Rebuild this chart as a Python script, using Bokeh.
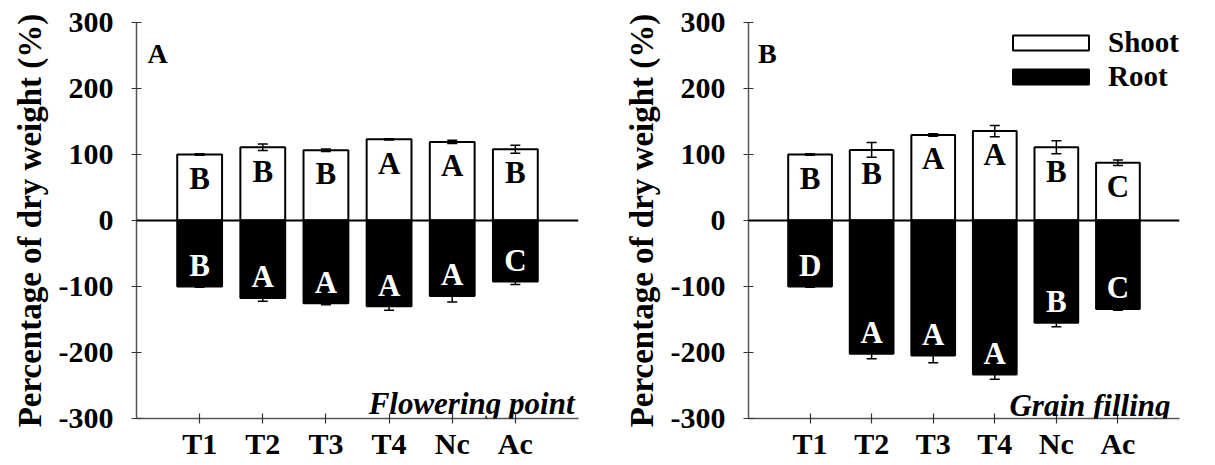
from bokeh.plotting import figure
from bokeh.layouts import row
from bokeh.models import (FactorRange, Range1d, Span, Whisker, ColumnDataSource,
                          Label, Legend, LegendItem, FixedTicker, TeeHead)
from bokeh.core.properties import value
from bokeh.embed import file_html
from bokeh.resources import INLINE

categories = ["T1", "T2", "T3", "T4", "Nc", "Ac"]
y_ticks = [-300, -200, -100, 0, 100, 200, 300]
y_tick_labels = ["-300", "-200", "-100", "0", "100", "200", "300"]

# Panel A: flowering point
a_shoot = [100, 111, 106.5, 123, 119, 108]
a_shoot_err = [1, 5, 2, 1, 2.5, 6]
a_root = [-100, -117.5, -125.5, -130, -114.5, -92.5]
a_root_err = [1, 5, 2, 6, 9, 4.5]
a_shoot_letters = ["B", "B", "B", "A", "A", "B"]
a_root_letters = ["B", "A", "A", "A", "A", "C"]

# Panel B: grain filling
b_shoot = [100, 107, 129.5, 135.5, 111, 87.5]
b_shoot_err = [1, 11, 2, 8.5, 10, 4]
b_root = [-100, -202, -204.5, -233.5, -155, -134]
b_root_err = [1, 7.5, 11, 7, 6, 2]
b_shoot_letters = ["B", "B", "A", "A", "B", "C"]
b_root_letters = ["D", "A", "A", "A", "B", "C"]

FONT = "Times"
SHOOT_LETTER_OFFSET = -36
ROOT_LETTER_OFFSET = 32
FRAME_H = 399


def panel(shoot, shoot_err, root, root_err, s_letters, r_letters, width,
          left, right, panel_tag, tag_x, stage, stage_x, stage_y, legend=False):
    p = figure(width=width, height=462,
               x_range=FactorRange(*categories, range_padding=0.5,
                                   range_padding_units="absolute"),
               y_range=Range1d(-300, 300),
               output_backend="svg", toolbar_location=None,
               min_border_left=left, min_border_right=right,
               min_border_top=22, min_border_bottom=41)
    p.outline_line_color = None
    p.grid.visible = False
    p.background_fill_color = "white"

    src = ColumnDataSource(dict(
        x=categories, shoot=shoot, root=root,
        s_up=[v + e for v, e in zip(shoot, shoot_err)],
        s_lo=[v - e for v, e in zip(shoot, shoot_err)],
        r_up=[v + e for v, e in zip(root, root_err)],
        r_lo=[v - e for v, e in zip(root, root_err)],
        s_lab=s_letters, r_lab=r_letters,
        s_y=[v + SHOOT_LETTER_OFFSET for v in shoot],
        r_y=[v + ROOT_LETTER_OFFSET for v in root],
    ))

    rs = p.vbar(x="x", top="shoot", bottom=0, width=0.71, source=src,
                fill_color="white", line_color="black", line_width=2)
    rr = p.vbar(x="x", top=0, bottom="root", width=0.71, source=src,
                fill_color="black", line_color="black", line_width=2)

    for up, lo in (("s_up", "s_lo"), ("r_up", "r_lo")):
        w = Whisker(base="x", upper=up, lower=lo, source=src,
                    line_color="black", line_width=1.5, level="annotation",
                    upper_head=TeeHead(size=10, line_color="black", line_width=1.5),
                    lower_head=TeeHead(size=10, line_color="black", line_width=1.5))
        p.add_layout(w)

    p.add_layout(Span(location=0, dimension="width", line_color="black",
                      line_width=2))

    p.text(x="x", y="s_y", text="s_lab", source=src, text_color="black",
           text_font=value(FONT), text_font_style="bold",
           text_font_size="31px", text_align="center", text_baseline="middle")
    p.text(x="x", y="r_y", text="r_lab", source=src, text_color="white",
           text_font=value(FONT), text_font_style="bold",
           text_font_size="31px", text_align="center", text_baseline="middle")

    # axes
    for ax in (p.xaxis[0], p.yaxis[0]):
        ax.axis_line_color = "#555555"
        ax.axis_line_width = 1.5
        ax.major_tick_line_color = "#333333"
        ax.major_tick_line_width = 1.2
        ax.major_tick_in = 5
        ax.major_tick_out = 5
        ax.minor_tick_line_color = None
        ax.major_label_text_font = FONT
        ax.major_label_text_font_style = "bold"
        ax.major_label_text_color = "black"
    p.yaxis.ticker = FixedTicker(ticks=y_ticks)
    p.yaxis.major_label_overrides = dict(zip(y_ticks, y_tick_labels))
    p.yaxis.major_label_text_font_size = "30px"
    p.yaxis.major_label_standoff = 18
    p.yaxis.axis_label = "Percentage of dry weight (%)"
    p.yaxis.axis_label_text_font = FONT
    p.yaxis.axis_label_text_font_style = "bold"
    p.yaxis.axis_label_text_font_size = "33px"
    p.yaxis.axis_label_text_color = "black"
    p.yaxis.axis_label_standoff = 8
    p.xaxis.major_label_text_font_size = "30px"
    p.xaxis.major_label_standoff = 3

    p.add_layout(Label(x=tag_x, y=FRAME_H - 34, x_units="screen", y_units="screen",
                       text=panel_tag, text_font=FONT, text_font_style="bold",
                       text_font_size="28px", text_color="black",
                       text_baseline="alphabetic"))
    p.add_layout(Label(x=stage_x, y=stage_y, x_units="screen", y_units="screen",
                       text=stage, text_font=FONT, text_font_style="bold italic",
                       text_font_size="31px", text_color="black",
                       text_align="right", text_baseline="alphabetic"))

    if legend:
        common = dict(glyph_width=95, glyph_height=19,
                      label_text_font=FONT, label_text_font_style="bold",
                      label_text_font_size="29px", label_text_color="black",
                      label_standoff=10,
                      spacing=0, padding=0, margin=0,
                      border_line_color=None, background_fill_alpha=0)
        lg1 = Legend(items=[LegendItem(label="Shoot", renderers=[rs])],
                     location=(255, 359), **common)
        lg2 = Legend(items=[LegendItem(label="Root", renderers=[rr])],
                     location=(255, 325), **common)
        p.add_layout(lg1, "center")
        p.add_layout(lg2, "center")
    return p


pa = panel(a_shoot, a_shoot_err, a_root, a_root_err, a_shoot_letters,
           a_root_letters, 600, 136, 22, "A", 11, "Flowering point", 438, 15)
pb = panel(b_shoot, b_shoot_err, b_root, b_root_err, b_shoot_letters,
           b_root_letters, 605, 148, 26, "B", 9.5, "Grain filling", 422, 13,
           legend=True)

layout = row(pa, pb)
open("out.html", "w").write(file_html(layout, INLINE))
